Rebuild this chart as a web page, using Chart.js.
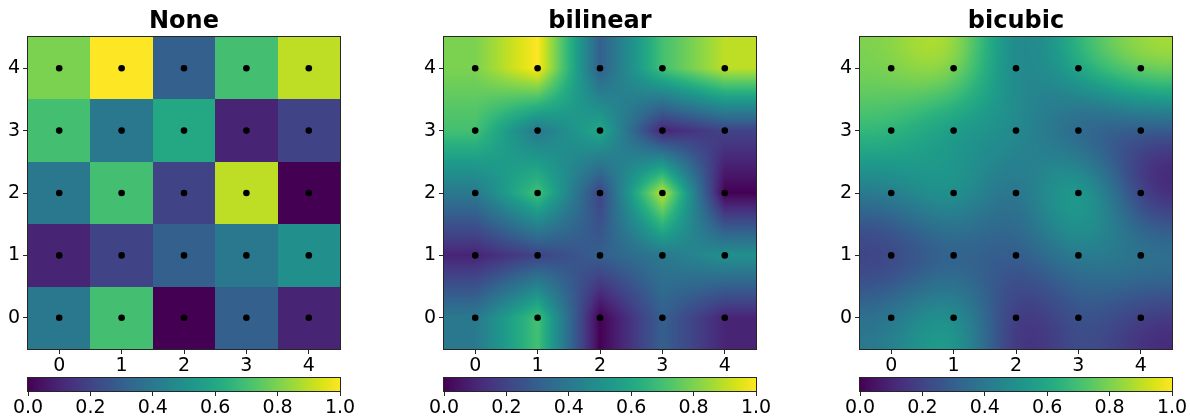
<!DOCTYPE html>
<html>
<head>
<meta charset="utf-8">
<script src="https://cdn.jsdelivr.net/npm/chart.js@4.4.1/dist/chart.umd.min.js"></script>
<style>
  html, body { margin: 0; padding: 0; background: #fff; }
  #wrap { position: relative; width: 1190px; height: 418px; overflow: hidden; }
  canvas { position: absolute; }
</style>
</head>
<body>
<div id="wrap"></div>
<script>
// grid values, one row per y value (row0 is the bottom row)
const xLabels = [0, 1, 2, 3, 4];
const yLabels = [0, 1, 2, 3, 4];
const row0 = [0.4, 0.7, 0.0, 0.3, 0.1];
const row1 = [0.1, 0.2, 0.3, 0.4, 0.5];
const row2 = [0.4, 0.7, 0.2, 0.9, 0.0];
const row3 = [0.7, 0.4, 0.6, 0.1, 0.2];
const row4 = [0.8, 1.0, 0.3, 0.7, 0.9];
const grid = [row0, row1, row2, row3, row4];

const titles = ['None', 'bilinear', 'bicubic'];
const methods = ['nearest', 'bilinear', 'bicubic'];
const cbTicks = [0.0, 0.2, 0.4, 0.6, 0.8, 1.0];

// viridis, 20 evenly spaced stops
const viridisStops = ['#440154', '#481567', '#482677', '#453781', '#3F4788', '#39558C', '#32648E',
  '#2D718E', '#287D8E', '#238A8D', '#1F968B', '#20A386', '#29AF7F', '#3CBC75', '#56C667',
  '#75D054', '#95D840', '#BADE28', '#DDE318', '#FDE725'].map(h => [
  parseInt(h.slice(1, 3), 16), parseInt(h.slice(3, 5), 16), parseInt(h.slice(5, 7), 16)]);

function viridis(v) {
  v = Math.min(1, Math.max(0, v)) * (viridisStops.length - 1);
  const i = Math.min(viridisStops.length - 2, Math.floor(v));
  const t = v - i;
  const a = viridisStops[i], b = viridisStops[i + 1];
  return [a[0] + (b[0] - a[0]) * t, a[1] + (b[1] - a[1]) * t, a[2] + (b[2] - a[2]) * t];
}

// agg style reflect wrap
function reflect(i, n) {
  const n2 = 2 * n;
  i = ((i % n2) + n2) % n2;
  return i >= n ? n2 - i - 1 : i;
}

function weights(method, t) {
  if (method === 'bilinear') return [[0, 1 - t], [1, t]];
  // cubic b-spline
  const t2 = t * t, t3 = t2 * t;
  return [
    [-1, (1 - t) * (1 - t) * (1 - t) / 6],
    [0, (3 * t3 - 6 * t2 + 4) / 6],
    [1, (-3 * t3 + 3 * t2 + 3 * t + 1) / 6],
    [2, t3 / 6]
  ];
}

function sample(method, u, v) {
  const nx = xLabels.length, ny = yLabels.length;
  if (method === 'nearest') {
    const i = Math.min(nx - 1, Math.max(0, Math.round(u)));
    const j = Math.min(ny - 1, Math.max(0, Math.round(v)));
    return grid[j][i];
  }
  const i0 = Math.floor(u), j0 = Math.floor(v);
  const wx = weights(method, u - i0), wy = weights(method, v - j0);
  let sum = 0;
  for (const [dj, wj] of wy) {
    const row = grid[reflect(j0 + dj, ny)];
    for (const [di, wi] of wx) sum += wj * wi * row[reflect(i0 + di, nx)];
  }
  return sum;
}

const imagePlugin = {
  id: 'imagePlugin',
  beforeDatasetsDraw(chart, args, opts) {
    const { ctx, chartArea: a, scales: { x, y } } = chart;
    const w = Math.round(a.right - a.left), h = Math.round(a.bottom - a.top);
    const off = document.createElement('canvas');
    off.width = w; off.height = h;
    const octx = off.getContext('2d');
    const img = octx.createImageData(w, h);
    for (let py = 0; py < h; py++) {
      const v = y.getValueForPixel(a.top + py + 0.5);
      for (let px = 0; px < w; px++) {
        const u = x.getValueForPixel(a.left + px + 0.5);
        const c = viridis(sample(opts.method, u, v));
        const k = (py * w + px) * 4;
        img.data[k] = c[0]; img.data[k + 1] = c[1]; img.data[k + 2] = c[2]; img.data[k + 3] = 255;
      }
    }
    octx.putImageData(img, 0, 0);
    ctx.drawImage(off, a.left, a.top);
  }
};

const colorbarPlugin = {
  id: 'colorbarPlugin',
  beforeDatasetsDraw(chart) {
    const { ctx, chartArea: a, scales: { x } } = chart;
    for (let px = Math.floor(a.left); px < a.right; px++) {
      const c = viridis(x.getValueForPixel(px + 0.5));
      ctx.fillStyle = `rgb(${c[0]},${c[1]},${c[2]})`;
      ctx.fillRect(px, a.top, 1, a.bottom - a.top);
    }
  }
};

const framePlugin = {
  id: 'framePlugin',
  afterDraw(chart) {
    const { ctx, chartArea: a } = chart;
    ctx.save();
    ctx.strokeStyle = '#262626';
    ctx.lineWidth = 1;
    ctx.strokeRect(a.left - 0.5, a.top - 0.5, a.right - a.left + 1, a.bottom - a.top + 1);
    ctx.restore();
  }
};

Chart.defaults.font.family = "'DejaVu Sans', sans-serif";
Chart.defaults.color = '#000';

function makeCanvas(left, top, w, h) {
  const c = document.createElement('canvas');
  c.width = w; c.height = h;
  c.style.left = left + 'px'; c.style.top = top + 'px';
  c.style.width = w + 'px'; c.style.height = h + 'px';
  document.getElementById('wrap').appendChild(c);
  return c;
}

const dots = [];
yLabels.forEach(yv => xLabels.forEach(xv => dots.push({ x: xv, y: yv })));

const axisLefts = [28, 444, 860];
const plotSize = 312;

titles.forEach((title, p) => {
  const L = axisLefts[p];
  const canvas = makeCanvas(L - 28, 0, 28 + plotSize + 8, 349 + 26);
  new Chart(canvas, {
    type: 'scatter',
    data: {
      datasets: [{
        data: dots,
        pointRadius: 3.3,
        pointBackgroundColor: '#000',
        pointBorderWidth: 0
      }]
    },
    options: {
      responsive: false,
      animation: false,
      events: [],
      layout: { padding: { left: 0, right: 8, top: 0, bottom: 0 } },
      plugins: {
        legend: { display: false },
        tooltip: { enabled: false },
        title: {
          display: true,
          fullSize: false,
          text: title,
          font: { size: 24, weight: 'bold' },
          color: '#000',
          padding: { top: 7.5, bottom: 0.7 }
        },
        imagePlugin: { method: methods[p] }
      },
      scales: {
        x: {
          type: 'linear',
          min: -0.5,
          max: 4.5,
          afterBuildTicks: s => { s.ticks = xLabels.map(v => ({ value: v })); },
          afterFit: s => { s.height = 26; },
          ticks: { font: { size: 19 }, color: '#000', padding: 1, maxRotation: 0, autoSkip: false },
          grid: { drawOnChartArea: false, drawTicks: true, tickLength: 5, color: '#262626' },
          border: { display: false }
        },
        y: {
          type: 'linear',
          min: -0.5,
          max: 4.5,
          afterBuildTicks: s => { s.ticks = yLabels.map(v => ({ value: v })); },
          afterFit: s => { s.width = 28; },
          ticks: { font: { size: 19 }, color: '#000', padding: 3, autoSkip: false },
          grid: { drawOnChartArea: false, drawTicks: true, tickLength: 5, color: '#262626' },
          border: { display: false }
        }
      }
    },
    plugins: [imagePlugin, framePlugin]
  });

  // colorbar under each panel
  const cb = makeCanvas(L - 30, 370, plotSize + 60, 48);
  new Chart(cb, {
    type: 'scatter',
    data: { datasets: [{ data: [] }] },
    options: {
      responsive: false,
      animation: false,
      events: [],
      layout: { padding: { left: 30, right: 30, top: 8, bottom: 0 } },
      plugins: { legend: { display: false }, tooltip: { enabled: false } },
      scales: {
        x: {
          type: 'linear',
          min: 0,
          max: 1,
          afterBuildTicks: s => { s.ticks = cbTicks.map(v => ({ value: v })); },
          afterFit: s => { s.height = 27; },
          ticks: { font: { size: 19 }, color: '#000', padding: 1, maxRotation: 0, autoSkip: false,
                   callback: v => v.toFixed(1) },
          grid: { drawOnChartArea: false, drawTicks: true, tickLength: 5, color: '#262626' },
          border: { display: false }
        },
        y: { display: false, min: 0, max: 1 }
      }
    },
    plugins: [colorbarPlugin, framePlugin]
  });
});
</script>
</body>
</html>
